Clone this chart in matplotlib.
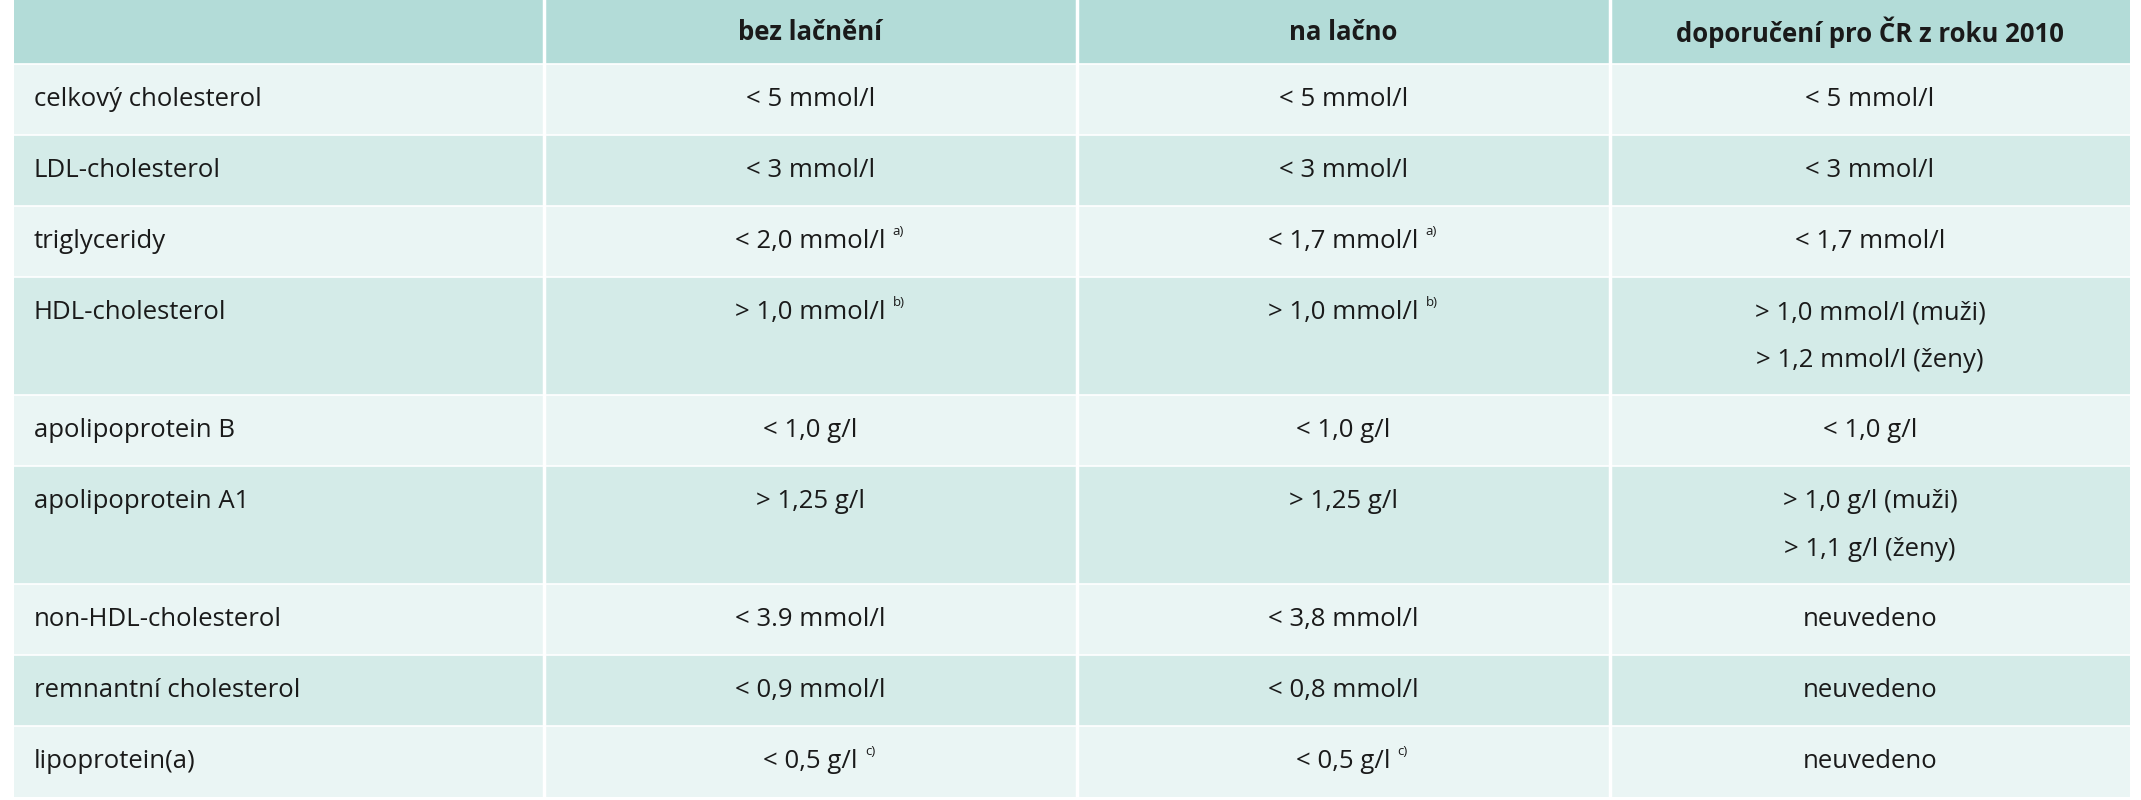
import matplotlib
matplotlib.use("Agg")
import matplotlib.pyplot as plt
from matplotlib.patches import Rectangle

headers = ["", "bez lačnění", "na lačno", "doporučení pro ČR z roku 2010"]
params = ["celkový cholesterol", "LDL-cholesterol", "triglyceridy", "HDL-cholesterol",
          "apolipoprotein B", "apolipoprotein A1", "non-HDL-cholesterol",
          "remnantní cholesterol", "lipoprotein(a)"]
bez = [("< 5 mmol/l", ""), ("< 3 mmol/l", ""), ("< 2,0 mmol/l", "a)"), ("> 1,0 mmol/l", "b)"),
       ("< 1,0 g/l", ""), ("> 1,25 g/l", ""), ("< 3.9 mmol/l", ""), ("< 0,9 mmol/l", ""),
       ("< 0,5 g/l", "c)")]
nalacno = [("< 5 mmol/l", ""), ("< 3 mmol/l", ""), ("< 1,7 mmol/l", "a)"), ("> 1,0 mmol/l", "b)"),
           ("< 1,0 g/l", ""), ("> 1,25 g/l", ""), ("< 3,8 mmol/l", ""), ("< 0,8 mmol/l", ""),
           ("< 0,5 g/l", "c)")]
doporuceni = [["< 5 mmol/l"], ["< 3 mmol/l"], ["< 1,7 mmol/l"],
              ["> 1,0 mmol/l (muži)", "> 1,2 mmol/l (ženy)"], ["< 1,0 g/l"],
              ["> 1,0 g/l (muži)", "> 1,1 g/l (ženy)"], ["neuvedeno"], ["neuvedeno"], ["neuvedeno"]]

W, H = 2141, 800
fig = plt.figure(figsize=(W/100, H/100), dpi=100)
ax = fig.add_axes([0, 0, 1, 1])
ax.set_xlim(0, W); ax.set_ylim(H, 0); ax.axis("off")

col_x = [14, 544, 1077, 1610, 2130]
header_h = 64
single_h = 71
double_h = 118
fam = ["Open Sans", "DejaVu Sans"]
fs = 18.5
c_head, c_light, c_dark = "#b3dcd8", "#eaf5f4", "#d4ebe8"

ax.add_patch(Rectangle((col_x[0], 0), col_x[-1]-col_x[0], header_h, color=c_head, lw=0))
for j, h in enumerate(headers):
    if h:
        ax.text((col_x[j]+col_x[j+1])/2, header_h/2, h, ha="center", va="center",
                fontsize=fs, fontweight="bold", family=fam, color="#1a1a1a")

y = header_h
for i, p in enumerate(params):
    nl = len(doporuceni[i])
    rh = single_h if nl == 1 else double_h
    ax.add_patch(Rectangle((col_x[0], y), col_x[-1]-col_x[0], rh,
                           color=c_light if i % 2 == 0 else c_dark, lw=0))
    ax.plot([col_x[0], col_x[-1]], [y, y], color="white", lw=1.2)
    ty = y + single_h/2
    ax.text(col_x[0]+20, ty, p, ha="left", va="center", fontsize=fs, family=fam, color="#1a1a1a")
    for j, (txt, sup) in enumerate([bez[i], nalacno[i]]):
        cx = (col_x[j+1]+col_x[j+2])/2
        t = ax.text(cx, ty, txt, ha="center", va="center", fontsize=fs, family=fam, color="#1a1a1a")
        if sup:
            fig.canvas.draw()
            bb = t.get_window_extent()
            ax.text(cx + bb.width/2 + 7, ty - 10, sup, ha="left", va="center",
                    fontsize=9.5, family=fam, color="#1a1a1a")
    cx = (col_x[3]+col_x[4])/2
    for k, line in enumerate(doporuceni[i]):
        ax.text(cx, ty + k*48, line, ha="center", va="center", fontsize=fs, family=fam, color="#1a1a1a")
    y += rh

for x in col_x[1:-1]:
    ax.plot([x, x], [0, y], color="white", lw=2.5)

fig.savefig("out.png", dpi=100, facecolor="white")
